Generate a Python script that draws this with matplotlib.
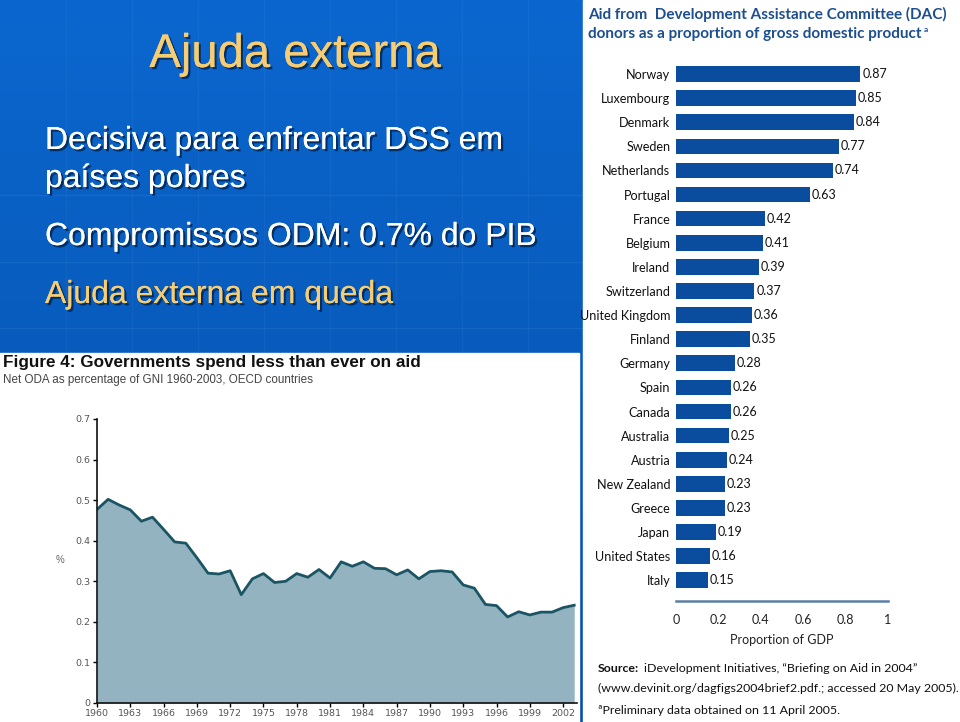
import matplotlib
matplotlib.use("Agg")
import matplotlib.pyplot as plt
import matplotlib.patheffects as pe
from matplotlib.patches import Rectangle
import numpy as np

W, H = 960, 722

# ---- data ----
years = list(range(1960, 2004))
oda_pct = [0.477, 0.502, 0.488, 0.476, 0.448, 0.458, 0.428, 0.397, 0.394, 0.358,
           0.320, 0.318, 0.326, 0.267, 0.306, 0.319, 0.297, 0.300, 0.319, 0.310,
           0.329, 0.308, 0.348, 0.337, 0.348, 0.332, 0.331, 0.316, 0.328, 0.306,
           0.324, 0.326, 0.323, 0.291, 0.283, 0.243, 0.240, 0.212, 0.225, 0.217,
           0.224, 0.224, 0.235, 0.241]
year_ticks = list(range(1960, 2003, 3))
pct_ticks = [0, 0.1, 0.2, 0.3, 0.4, 0.5, 0.6, 0.7]

countries = ["Norway", "Luxembourg", "Denmark", "Sweden", "Netherlands", "Portugal",
             "France", "Belgium", "Ireland", "Switzerland", "United Kingdom", "Finland",
             "Germany", "Spain", "Canada", "Australia", "Austria", "New Zealand",
             "Greece", "Japan", "United States", "Italy"]
gdp_share = [0.87, 0.85, 0.84, 0.77, 0.74, 0.63, 0.42, 0.41, 0.39, 0.37, 0.36, 0.35,
             0.28, 0.26, 0.26, 0.25, 0.24, 0.23, 0.23, 0.19, 0.16, 0.15]
share_ticks = [0, 0.2, 0.4, 0.6, 0.8, 1]
share_tick_labels = ["0", "0.2", "0.4", "0.6", "0.8", "1"]


def box(x0, y0, x1, y1):
    # pixel box (top-left origin) -> figure rect
    return [x0 / W, 1 - y1 / H, (x1 - x0) / W, (y1 - y0) / H]


fig = plt.figure(figsize=(9.6, 7.22), dpi=100)

# ---- slide background ----
bg = fig.add_axes([0, 0, 1, 1])
top = np.array([0x0b, 0x67, 0xcf]) / 255
bot = np.array([0x05, 0x4f, 0xa8]) / 255
t = np.linspace(0, 1, 300)[:, None, None]
grad = top * (1 - t) + bot * t
grad = np.repeat(grad, 2, axis=1)
bg.imshow(grad, extent=[0, W, H, 0], aspect="auto")
for gy in [195, 262, 328]:
    bg.plot([0, W], [gy, gy], color="white", alpha=0.06, lw=1)
for gx in [66, 132, 198, 264, 330, 396, 462, 528]:
    bg.plot([gx, gx], [0, H], color="white", alpha=0.04, lw=1)
bg.set_xlim(0, W)
bg.set_ylim(H, 0)
bg.axis("off")

shadow = [pe.withSimplePatchShadow(offset=(1.6, -1.6), shadow_rgbFace="#001a40", alpha=0.7),
          pe.Normal()]
yellow = "#f6cd72"
bg.text(295, 55, "Ajuda externa", fontsize=34, color=yellow, ha="center", va="center",
        family="Liberation Sans", path_effects=shadow)
bg.text(45, 141, "Decisiva para enfrentar DSS em", fontsize=23, color="white",
        va="center", family="Liberation Sans", path_effects=shadow)
bg.text(45, 179, "países pobres", fontsize=23, color="white",
        va="center", family="Liberation Sans", path_effects=shadow)
bg.text(45, 237, "Compromissos ODM: 0.7% do PIB", fontsize=23, color="white",
        va="center", family="Liberation Sans", path_effects=shadow)
bg.text(45, 295, "Ajuda externa em queda", fontsize=23, color=yellow,
        va="center", family="Liberation Sans", path_effects=shadow)

# white panels
bg.add_patch(Rectangle((0, 353), 579, H - 353, color="white", zorder=3))
bg.add_patch(Rectangle((583, 0), W - 583, H, color="white", zorder=3))

# ---- left: area chart ----
bg.text(3, 363, "Figure 4: Governments spend less than ever on aid", fontsize=12.3,
        fontweight="bold", color="#111111", va="center", family="Liberation Sans", zorder=4)
bg.text(3, 380, "Net ODA as percentage of GNI 1960-2003, OECD countries", fontsize=8.4,
        color="#444444", va="center", family="Liberation Sans", zorder=4)
bg.text(60, 560, "%", fontsize=7, color="#666666", ha="center", va="center",
        family="Liberation Sans", zorder=4)

ax = fig.add_axes(box(97, 419, 577, 703))
ax.fill_between(years, oda_pct, 0, color="#94b3c0", lw=0)
ax.plot(years, oda_pct, color="#1b5563", lw=2, solid_joinstyle="round")
ax.set_xlim(1960, 2003.25)
ax.set_ylim(0, 0.7)
ax.set_xticks(year_ticks)
ax.set_yticks(pct_ticks)
ax.set_yticklabels(["0"] + [f"{v:.1f}" for v in pct_ticks[1:]])
for s in ["top", "right"]:
    ax.spines[s].set_visible(False)
for s in ["left", "bottom"]:
    ax.spines[s].set_linewidth(1.2)
    ax.spines[s].set_color("#111111")
ax.tick_params(labelsize=6.8, labelcolor="#555555", length=3, width=1, pad=1.5)
ax.patch.set_alpha(0)

# ---- right: bar chart ----
navy = "#1d4f8f"
bg.text(588, 14, "Aid from  Development Assistance Committee (DAC)", fontsize=11,
        fontweight="bold", color=navy, va="center", family="Lato", zorder=4)
t2 = bg.text(588, 34, "donors as a proportion of gross domestic product",
             fontsize=11, fontweight="bold", color=navy, va="center", family="Lato", zorder=4)
bg.annotate("a", xy=(1, 0.55), xycoords=t2, xytext=(1.5, 0), textcoords="offset points",
            fontsize=6, fontweight="bold", color=navy, va="bottom", ha="left",
            family="Lato", zorder=4)

bx = fig.add_axes(box(676, 61, 888, 601))
ypos = np.arange(len(countries))
bx.barh(ypos, gdp_share, height=0.65, color="#0a4c9e")
for y, v in zip(ypos, gdp_share):
    bx.text(v + 0.008, y, f"{v:.2f}", fontsize=9, va="center", ha="left",
            family="Lato", color="#111111")
bx.set_yticks(ypos)
bx.set_yticklabels(countries, fontsize=9.1, family="Lato", color="#111111")
bx.set_ylim(len(countries) - 1 + 0.86, -0.54)
bx.set_xlim(0, 1)
bx.set_xticks(share_ticks)
bx.set_xticklabels(share_tick_labels, fontsize=9, family="Lato", color="#222222")
bx.tick_params(axis="both", length=0)
bx.tick_params(axis="x", pad=9)
bx.tick_params(axis="y", pad=4)
for s in ["top", "right", "left"]:
    bx.spines[s].set_visible(False)
bx.spines["bottom"].set_color("#5b7ea6")
bx.spines["bottom"].set_linewidth(1.8)
bx.set_xlabel("Proportion of GDP", fontsize=9, family="Lato", color="#222222", labelpad=6)
bx.patch.set_alpha(0)

bg.text(598, 668, "Source:", fontsize=8.9, fontweight="bold", va="center",
        family="Lato", color="#111111", zorder=4)
bg.text(644, 668, "iDevelopment Initiatives, \u201cBriefing on Aid in 2004\u201d",
        fontsize=8.9, va="center", family="Lato", color="#111111", zorder=4)
bg.text(598, 688, "(www.devinit.org/dagfigs2004brief2.pdf.; accessed 20 May 2005).",
        fontsize=8.9, va="center", family="Lato", color="#111111", zorder=4)
bg.text(598, 711, "\u00aaPreliminary data obtained on 11 April 2005.",
        fontsize=8.9, va="center", family="Lato", color="#111111", zorder=4)

fig.savefig("out.png", dpi=100)
